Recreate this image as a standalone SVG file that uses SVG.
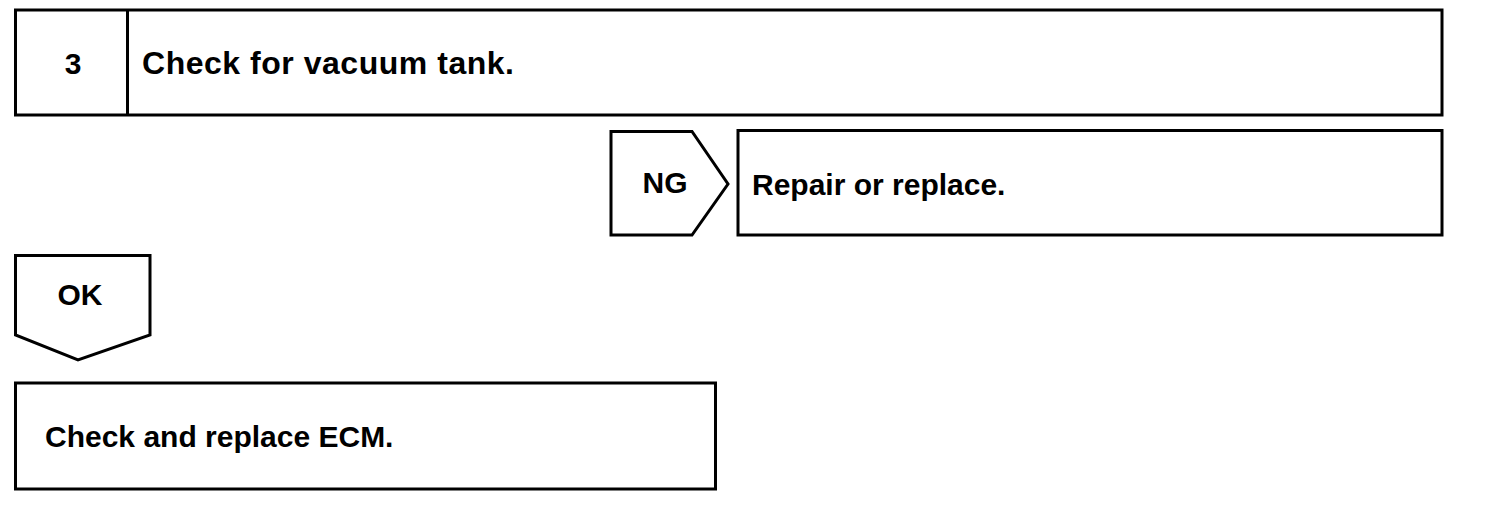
<svg xmlns="http://www.w3.org/2000/svg" width="1504" height="530" viewBox="0 0 1504 530">
<style>
.box{fill:#fff;stroke:#000;stroke-width:3;stroke-linejoin:miter}
.t{font-family:"Liberation Sans",Arial,sans-serif;font-weight:bold;font-size:30px;fill:#000}
.c{text-anchor:middle}
</style>
<rect width="1504" height="530" fill="#fff"/>
<g id="step3">
<rect class="box" x="15.5" y="10" width="1426.5" height="105"/>
<line x1="127.5" y1="10" x2="127.5" y2="115" stroke="#000" stroke-width="3"/>
<text class="t c" x="73" y="74">3</text>
<text class="t" x="142" y="74" style="font-size:32px" textLength="372" lengthAdjust="spacing">Check for vacuum tank.</text>
</g>
<g id="ng">
<polygon class="box" points="611,131.5 692,131.5 728,184 692,235 611,235"/>
<text class="t c" x="665" y="193">NG</text>
</g>
<g id="repair">
<rect class="box" x="738" y="130.5" width="704" height="104.5"/>
<text class="t" x="752" y="195">Repair or replace.</text>
</g>
<g id="ok">
<polygon class="box" points="15.5,255.5 150,255.5 150,335 78,360 15.5,335"/>
<text class="t c" x="80" y="305">OK</text>
</g>
<g id="ecm">
<rect class="box" x="15.5" y="383" width="700" height="106"/>
<text class="t" x="45" y="447">Check and replace ECM.</text>
</g>
<g id="connectors"></g>
</svg>
